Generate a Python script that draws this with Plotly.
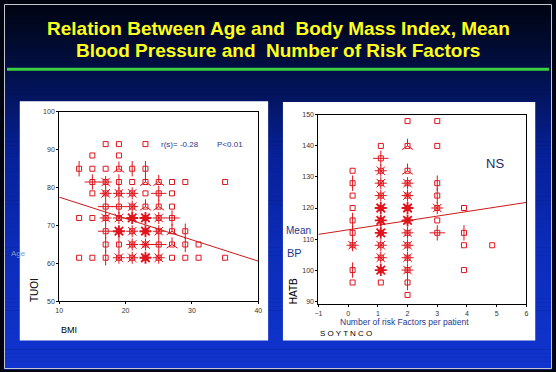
import plotly.graph_objects as go

W, H = 556, 372

# ---------------- data ----------------
# Left panel: BMI vs Age (sunflower counts)
bmi = [17, 19, 23,
       15, 19,
       13, 15, 17, 19, 21, 23,
       15, 17, 19, 21, 23, 25, 27, 29, 35,
       15, 17, 19, 21, 23, 25, 27,
       17, 19, 21, 23, 25, 27,
       13, 15, 17, 19, 21, 23, 25, 27,
       17, 19, 21, 23, 25, 27, 29,
       17, 19, 21, 23, 25, 27, 29, 31,
       13, 15, 17, 19, 21, 23, 25, 27, 29, 31, 35]
age = [91.5, 91.5, 91.5,
       88.5, 88.5,
       85, 85, 85, 85, 85, 85,
       81.5, 81.5, 81.5, 81.5, 81.5, 81.5, 81.5, 81.5, 81.5,
       78.5, 78.5, 78.5, 78.5, 78.5, 78.5, 78.5,
       75, 75, 75, 75, 75, 75,
       72, 72, 72, 72, 72, 72, 72, 72,
       68.5, 68.5, 68.5, 68.5, 68.5, 68.5, 68.5,
       65, 65, 65, 65, 65, 65, 65, 65,
       61.5, 61.5, 61.5, 61.5, 61.5, 61.5, 61.5, 61.5, 61.5, 61.5, 61.5]
n_left = [1, 1, 1,
          1, 1,
          2, 1, 1, 3, 2, 2,
          4, 5, 2, 1, 3, 3, 1, 1, 1,
          1, 5, 6, 5, 1, 4, 1,
          4, 4, 5, 3, 3, 1,
          1, 1, 5, 7, 9, 9, 7, 4,
          4, 8, 7, 8, 5, 3, 2,
          2, 2, 7, 7, 4, 3, 2, 1,
          1, 1, 2, 5, 7, 10, 6, 1, 1, 1, 1]
fit_left_x = [10, 40]
fit_left_y = [77.5, 60.6]

# Right panel: number of risk factors vs mean BP
risk = [0.15] * 9 + [1.1] * 12 + [2.0] * 13 + [3.0] * 7 + [3.9] * 4 + [4.85]
bp = [132, 128, 124, 120, 116, 112, 108, 100, 96,
      140, 136, 132, 128, 124, 120, 116, 112, 108, 104, 100, 96,
      148, 140, 132, 128, 124, 120, 116, 112, 108, 104, 100, 96, 92,
      148, 140, 128, 124, 120, 116, 112,
      120, 112, 108, 100,
      108]
n_right = [1, 2, 1, 1, 2, 2, 5, 2, 1,
           1, 4, 5, 5, 5, 9, 8, 9, 6, 7, 9, 1,
           1, 3, 3, 5, 5, 9, 9, 7, 5, 5, 5, 2, 1,
           1, 1, 2, 2, 5, 1, 4,
           1, 2, 1, 1,
           1]
fit_right_x = [-1, 6]
fit_right_y = [111.5, 121.8]

left_xticks = [10, 20, 30, 40]
left_yticks = [50, 60, 70, 80, 90, 100]
right_xticks = [-1, 0, 1, 2, 3, 4, 5, 6]
right_yticks = [90, 100, 110, 120, 130, 140, 150]

TITLE = ["Relation Between Age and\u00a0 Body Mass Index, Mean",
         "Blood Pressure and\u00a0 Number of Risk Factors"]

# ---------------- styling ----------------
RED = "#e0141c"
NAVY = "#1e3890"
FONT = "Liberation Sans, Arial, sans-serif"


def px_x(v):
    return v / W


def px_y(v):
    return 1 - v / H


fig = go.Figure()

# background gradient bands
stops = [(0, (0, 4, 16)), (70, (2, 16, 72)), (150, (6, 32, 150)),
         (250, (12, 44, 186)), (372, (16, 52, 206))]


def grad(y):
    for (y0, c0), (y1, c1) in zip(stops[:-1], stops[1:]):
        if y0 <= y <= y1:
            t = (y - y0) / (y1 - y0)
            return "rgb(%d,%d,%d)" % tuple(round(a + (b - a) * t) for a, b in zip(c0, c1))
    return "rgb(%d,%d,%d)" % stops[-1][1]


shapes = []
step = 4
for y in range(0, H, step):
    shapes.append(dict(type="rect", xref="paper", yref="paper", layer="below",
                       x0=0, x1=1, y0=px_y(y + step + 0.5), y1=px_y(y),
                       fillcolor=grad(y + step / 2), line=dict(width=0)))
# frame
shapes.append(dict(type="rect", xref="paper", yref="paper", layer="below",
                   x0=px_x(0.5), x1=px_x(W - 0.5), y0=px_y(H - 0.5), y1=px_y(0.5),
                   fillcolor="rgba(0,0,0,0)", line=dict(color="#c8c8d0", width=1)))
# green rule
shapes.append(dict(type="line", xref="paper", yref="paper", layer="below",
                   x0=px_x(3), x1=px_x(553), y0=px_y(66.5), y1=px_y(66.5),
                   line=dict(color="#3cd040", width=3)))
# white panels
shapes.append(dict(type="rect", xref="paper", yref="paper", layer="below",
                   x0=px_x(16), x1=px_x(268), y0=px_y(343), y1=px_y(99),
                   fillcolor="white", line=dict(width=0)))
shapes.append(dict(type="rect", xref="paper", yref="paper", layer="below",
                   x0=px_x(283), x1=px_x(539), y0=px_y(343), y1=px_y(100),
                   fillcolor="white", line=dict(width=0)))


def add_sunflowers(xs, ys, ns, xa, ya):
    fig.add_trace(go.Scatter(x=xs, y=ys, mode="markers", xaxis=xa, yaxis=ya,
                             marker=dict(symbol="square-open", size=5, color=RED,
                                         line=dict(color=RED, width=1)),
                             hoverinfo="skip", showlegend=False))
    groups = [
        (lambda k: k == 2, "line-ns-open", 11, 1),
        (lambda k: k == 3, "y-up-open", 9, 1),
        (lambda k: k == 4, "cross-thin-open", 11, 1),
        (lambda k: 5 <= k <= 7, "asterisk-open", 10, 1),
        (lambda k: k >= 8, "asterisk-open", 10, 1.8),
    ]
    for cond, sym, sz, lw in groups:
        gx = [x for x, k in zip(xs, ns) if cond(k)]
        gy = [y for y, k in zip(ys, ns) if cond(k)]
        if gx:
            fig.add_trace(go.Scatter(x=gx, y=gy, mode="markers", xaxis=xa, yaxis=ya,
                                     marker=dict(symbol=sym, size=sz, color=RED,
                                                 line=dict(color=RED, width=lw)),
                                     hoverinfo="skip", showlegend=False))


add_sunflowers(bmi, age, n_left, "x", "y")
fig.add_trace(go.Scatter(x=fit_left_x, y=fit_left_y, mode="lines", xaxis="x", yaxis="y",
                         line=dict(color="#d01818", width=1), hoverinfo="skip",
                         showlegend=False))
add_sunflowers(risk, bp, n_right, "x2", "y2")
fig.add_trace(go.Scatter(x=fit_right_x, y=fit_right_y, mode="lines", xaxis="x2", yaxis="y2",
                         line=dict(color="#d01818", width=1), hoverinfo="skip",
                         showlegend=False))

axis_common = dict(showline=True, linecolor="black", linewidth=1, mirror=True,
                   showgrid=False, zeroline=False, ticks="outside", ticklen=2,
                   tickwidth=1, tickcolor="black",
                   tickfont=dict(family=FONT, size=7, color="#333333"))

fig.update_layout(
    width=W, height=H, margin=dict(l=0, r=0, t=0, b=0),
    paper_bgcolor="#000410", plot_bgcolor="rgba(0,0,0,0)",
    shapes=shapes,
    xaxis=dict(domain=[px_x(56), px_x(258)], range=[10, 40], tickvals=left_xticks,
               anchor="y", ticklabelstandoff=0, **axis_common),
    yaxis=dict(domain=[px_y(303), px_y(110)], range=[50, 100], tickvals=left_yticks,
               anchor="x", **axis_common),
    xaxis2=dict(domain=[px_x(319), px_x(530)], range=[-1, 6], tickvals=right_xticks,
                anchor="y2", ticklabelstandoff=0, **axis_common),
    yaxis2=dict(domain=[px_y(306), px_y(113)], range=[89, 150], tickvals=right_yticks,
                anchor="x2", **axis_common),
)


def ann(text, x, y, size, color, xanchor="center", bold=False, angle=0, family=FONT):
    fig.add_annotation(text=("<b>%s</b>" % text) if bold else text,
                       xref="paper", yref="paper", x=px_x(x), y=px_y(y),
                       xanchor=xanchor, yanchor="middle", showarrow=False,
                       textangle=angle,
                       font=dict(family=family, size=size, color=color))


ann(TITLE[0], 278, 25, 19, "#ffff1a", bold=True)
ann(TITLE[1], 278, 47, 19, "#ffff1a", bold=True)

# left panel texts
ann("r(s)= -0.28", 179, 143, 8, NAVY)
ann("P<0.01", 229, 143, 8, NAVY)
ann("Age", 5, 254, 8, "#8898c8", xanchor="left")
ann("TUOI", 31, 292, 10, "black", angle=-90)
ann("BMI", 56, 332, 9, "black", xanchor="left")

# right panel texts
ann("NS", 498, 163, 13, "#1a2860")
ann("Mean", 284, 231, 10, NAVY, xanchor="left")
ann("BP", 285, 254, 11, NAVY, xanchor="left")
ann("HATB", 294, 293, 10, "black", angle=-90)
ann("Number of risk Factors per patient", 339, 324.5, 8.5, NAVY, xanchor="left")
ann("S O Y T N C O", 319, 336, 8, "black", xanchor="left")

fig.write_html("out.html",
               config={"displayModeBar": False},
               post_script="document.body.style.margin='0';"
                           "document.body.style.overflow='hidden';")
